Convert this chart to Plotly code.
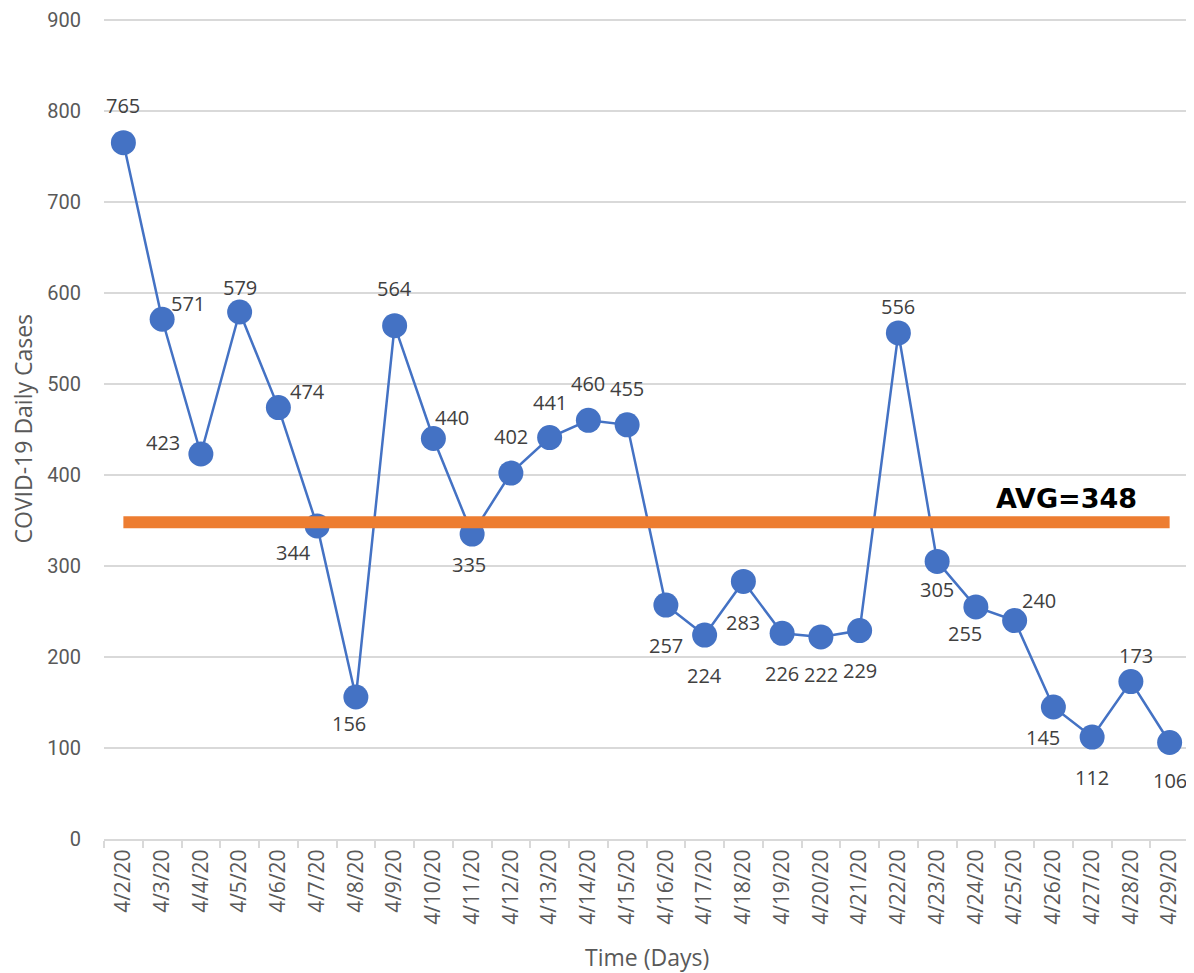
import plotly.graph_objects as go

DATES = ["4/2/20", "4/3/20", "4/4/20", "4/5/20", "4/6/20", "4/7/20", "4/8/20",
         "4/9/20", "4/10/20", "4/11/20", "4/12/20", "4/13/20", "4/14/20", "4/15/20",
         "4/16/20", "4/17/20", "4/18/20", "4/19/20", "4/20/20", "4/21/20", "4/22/20",
         "4/23/20", "4/24/20", "4/25/20", "4/26/20", "4/27/20", "4/28/20", "4/29/20"]
CASES = [765, 571, 423, 579, 474, 344, 156, 564, 440, 335, 402, 441, 460, 455,
         257, 224, 283, 226, 222, 229, 556, 305, 255, 240, 145, 112, 173, 106]
AVG = 348
Y_TICKS = [0, 100, 200, 300, 400, 500, 600, 700, 800, 900]

# label nudges in pixels (dx, dy) - Excel labels were placed by hand
LABEL_SHIFT = [(0, 37), (26, 16), (-38, 11), (0, 24), (29, 16), (-24, -27), (-7, -26),
               (0, 37), (19, 21), (-3, -30), (0, 37), (0, 35), (0, 37), (0, 36),
               (0, -40), (0, -40), (0, -41), (0, -40), (0, -38), (0, -40), (0, 26),
               (0, -28), (-11, -27), (24, 20), (-10, -30), (0, -40), (5, 26), (0, -38)]

BLUE = "#4472C4"
ORANGE = "#ED7D31"
FONT = "Open Sans, sans-serif"
GREY = "#595959"

fig = go.Figure()
fig.add_trace(go.Scatter(
    x=DATES, y=CASES, mode="lines+markers",
    line=dict(color=BLUE, width=2.5),
    marker=dict(color=BLUE, size=25),
    showlegend=False,
))
fig.add_trace(go.Scatter(
    x=DATES, y=[AVG] * len(DATES), mode="lines",
    line=dict(color=ORANGE, width=12),
    showlegend=False,
))

for d, v, (dx, dy) in zip(DATES, CASES, LABEL_SHIFT):
    fig.add_annotation(x=d, y=v, text=str(v), showarrow=False,
                       xshift=dx, yshift=dy,
                       font=dict(family=FONT, size=20, color="#404040"))

fig.add_annotation(x="4/26/20", y=AVG, text="<b>AVG=348</b>", showarrow=False,
                   xshift=13, yshift=24,
                   font=dict(family="DejaVu Sans, sans-serif", size=27, color="#000000"))

# axis titles as paper annotations so they sit where Excel put them
fig.add_annotation(text="Time (Days)", xref="paper", yref="paper", x=0.5, y=0,
                   yanchor="middle", yshift=-118, showarrow=False,
                   font=dict(family=FONT, size=23, color=GREY))
fig.add_annotation(text="COVID-19 Daily Cases", xref="paper", yref="paper", x=0, y=0.5,
                   xanchor="center", xshift=-82, textangle=-90, showarrow=False,
                   font=dict(family=FONT, size=23, color=GREY))

# the page body adds 8px, so the figure is 8px smaller than the window
fig.update_layout(
    width=1186, height=965,
    margin=dict(l=96, r=5, t=10, b=134),
    plot_bgcolor="white", paper_bgcolor="white",
    font=dict(family=FONT, size=20, color=GREY),
)
fig.update_xaxes(
    type="category", tickangle=-90, automargin=False,
    range=[-0.5, len(DATES) - 0.5],
    ticks="outside", tickson="boundaries", ticklen=7, tickcolor="#d9d9d9", tickwidth=2,
    showline=True, linecolor="#d9d9d9", linewidth=2,
    showgrid=False, zeroline=False,
    tickfont=dict(size=21),
)
# a hair of headroom above 900 so the top gridline is not clipped away;
# Roboto has a shorter line box so the "900" label stays inside the page
fig.update_yaxes(
    range=[0, 902], tickvals=Y_TICKS, automargin=False,
    showgrid=True, gridcolor="#d9d9d9", gridwidth=2, zeroline=False,
    ticks="outside", ticklen=18, tickcolor="rgba(0,0,0,0)",
    ticklabeloverflow="allow",
    tickfont=dict(family="Roboto, sans-serif", size=20),
)

fig.write_html("out.html")
